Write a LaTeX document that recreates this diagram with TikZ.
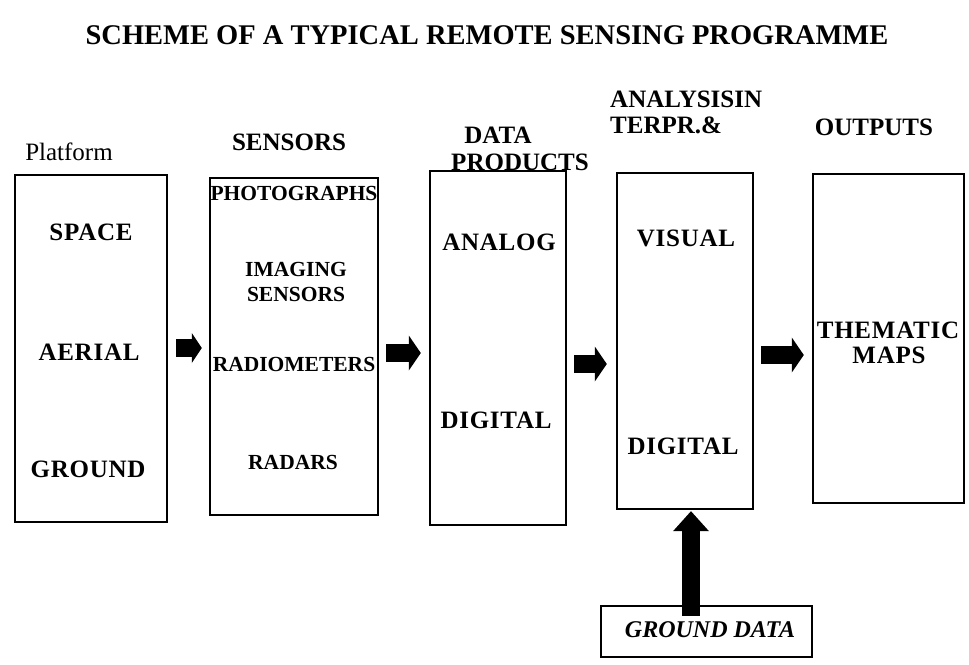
\documentclass[tikz,border=0pt]{standalone}
\usepackage{fontspec}
\setmainfont{Liberation Serif}
\usetikzlibrary{arrows.meta}
\begin{document}
\begin{tikzpicture}[x=1pt,y=-1pt,
  box/.style={draw=black, line width=2.4pt, rectangle, inner sep=0pt},
  hlbl/.style={font=\fontsize{25}{27}\selectfont\bfseries, inner sep=0pt},
  lbl/.style={font=\fontsize{25}{27}\selectfont\bfseries\addfontfeatures{LetterSpace=3}, inner sep=0pt},
  slbl/.style={font=\fontsize{21.5}{23}\selectfont\bfseries, inner sep=0pt},
  bigarrow/.style={line width=18pt, -{Triangle[width=35pt,length=12pt,line width=0pt]}},
]
\useasboundingbox (0,0) rectangle (969,664);

% title and headers
\node[font=\fontsize{28.5}{30}\selectfont\bfseries, inner sep=0pt] (title) at (487,35) {SCHEME OF A TYPICAL REMOTE SENSING PROGRAMME};
\node[font=\fontsize{25}{27}\selectfont, inner sep=0pt] (hplat) at (69,152) {Platform};
\node[hlbl] (hsens) at (289,142) {SENSORS};
\node[hlbl] (hdata1) at (498,135) {DATA};
\node[hlbl] (hdata2) at (520,162) {PRODUCTS};
\node[hlbl, anchor=west] (hanal1) at (610,99) {ANALYSISIN};
\node[hlbl, anchor=west] (hanal2) at (610,125) {TERPR.\&};
\node[hlbl] (hout) at (874,127) {OUTPUTS};

% boxes
\node[box, minimum width=152pt, minimum height=347pt] (plat) at (91,348.5) {};
\node[box, minimum width=168pt, minimum height=337pt] (sens) at (294,346.5) {};
\node[box, minimum width=136pt, minimum height=354pt] (data) at (498,348) {};
\node[box, minimum width=136pt, minimum height=336pt] (anal) at (685,341) {};
\node[box, minimum width=151pt, minimum height=329pt] (outp) at (888.5,338.5) {};
\node[box, minimum width=211pt, minimum height=51pt] (gd) at (706.5,631.5) {};

% box contents
\node[lbl] (space) at (91,232) {SPACE};
\node[lbl] (aerial) at (89,352) {AERIAL};
\node[lbl] (ground) at (88,469) {GROUND};

\node[slbl] (photo) at (294,193) {PHOTOGRAPHS};
\node[slbl] (imag) at (296,269) {IMAGING};
\node[slbl] (isens) at (296,294) {SENSORS};
\node[slbl] (radio) at (294,364) {RADIOMETERS};
\node[slbl] (radar) at (293,462) {RADARS};

\node[lbl] (analog) at (499,242) {ANALOG};
\node[lbl] (digit1) at (496,420) {DIGITAL};

\node[lbl] (visual) at (686,238) {VISUAL};
\node[lbl] (digit2) at (683,446) {DIGITAL};

\node[lbl] (them) at (888,330) {THEMATIC};
\node[lbl] (maps) at (889,355) {MAPS};

\node[font=\fontsize{24}{26}\selectfont\bfseries\itshape, inner sep=0pt] (gdt) at (710,630) {GROUND DATA};

% block arrows
\draw[bigarrow, -{Triangle[width=30pt,length=10pt,line width=0pt]}]
  ([xshift=8pt]plat.east |- 0,348) -- ([xshift=-7pt]sens.west |- 0,348);
\draw[bigarrow] ([xshift=7pt]sens.east |- 0,353) -- ([xshift=-8pt]data.west |- 0,353);
\draw[bigarrow] ([xshift=7pt]data.east |- 0,364) -- ([xshift=-9pt]anal.west |- 0,364);
\draw[bigarrow] ([xshift=7pt]anal.east |- 0,355) -- ([xshift=-8pt]outp.west |- 0,355);
\draw[line width=18pt, -{Triangle[width=36pt,length=20pt,line width=0pt]}]
  ([yshift=-11pt]gd.north -| 691,0) -- ([yshift=-1pt]anal.south -| 691,0);
\end{tikzpicture}
\end{document}
